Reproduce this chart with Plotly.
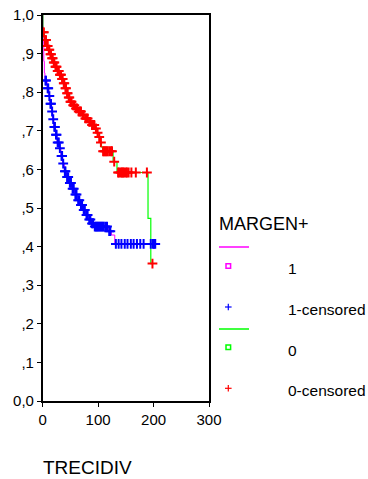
import numpy as np
import plotly.graph_objects as go

# ---- data (Kaplan-Meier style step curves) ----
g1_times = [0, 0.5, 1, 2, 3, 4, 8, 11, 13, 16, 18, 20, 23, 26, 30, 33, 36, 39, 43, 47,
            52, 57, 62, 67, 72, 77, 82, 87, 92, 118, 124, 130, 205]
g1_surv = [1.0, 0.97, 0.93, 0.88, 0.85, 0.83, 0.81, 0.79, 0.77, 0.75, 0.73, 0.71, 0.69,
           0.67, 0.655, 0.635, 0.615, 0.595, 0.58, 0.565, 0.55, 0.535, 0.52, 0.508, 0.495,
           0.482, 0.47, 0.46, 0.452, 0.44, 0.43, 0.407, 0.407]
g1_cens = [5, 6, 9, 10, 12, 14, 15, 17, 19, 21, 22, 24, 25, 27, 29, 31, 34, 35, 37, 40, 41,
           44, 46, 49, 51, 54, 56, 59, 61, 64, 66, 69, 71, 74, 76, 79, 81, 84, 86, 89, 91, 94,
           96, 98, 100, 102, 104, 106, 108, 110, 113, 116, 120, 122, 132, 137, 142, 148, 153,
           159, 164, 170, 176, 182, 195, 199, 201, 203]

g0_times = [0, 0.3, 3, 7, 10, 13, 16, 19, 22, 26, 30, 34, 37, 40, 43, 46, 49, 53, 58, 64,
            70, 76, 82, 88, 94, 97, 100, 103, 106, 108, 127, 134, 190, 195, 198]
g0_surv = [1.0, 0.955, 0.935, 0.92, 0.91, 0.898, 0.888, 0.877, 0.866, 0.855, 0.845, 0.834,
           0.823, 0.81, 0.797, 0.786, 0.775, 0.766, 0.758, 0.75, 0.741, 0.732, 0.723, 0.715,
           0.706, 0.695, 0.684, 0.67, 0.658, 0.647, 0.62, 0.592, 0.473, 0.356, 0.356]
g0_cens = [1, 2, 4, 5, 6, 8, 9, 11, 12, 14, 15, 17, 18, 20, 21, 23, 24, 25, 27, 28, 29, 31,
           32, 33, 35, 36, 38, 39, 41, 42, 44, 45, 47, 48, 50, 51, 52, 55, 57, 60, 62, 65, 67,
           69, 72, 74, 77, 79, 81, 84, 86, 89, 91, 93, 96, 99, 102, 105, 109, 111, 113, 115,
           117, 120, 123, 125, 129, 136, 138, 141, 143, 145, 147, 150, 152, 155, 160, 168,
           188, 198]

x_ticks = [0, 100, 200, 300]
y_ticks = [0, 0.1, 0.2, 0.3, 0.4, 0.5, 0.6, 0.7, 0.8, 0.9, 1.0]
y_labels = ["0,0", ",1", ",2", ",3", ",4", ",5", ",6", ",7", ",8", ",9", "1,0"]

legend_title = "MARGEN+"
legend_labels = ["1", "1-censored", "0", "0-censored"]
x_title = "TRECIDIV"


def surv_at(times, surv, t):
    idx = np.searchsorted(np.array(times), np.array(t), side="right") - 1
    return np.array(surv)[idx]


W, H = 368, 479
FONT = "Liberation Sans, Arial, sans-serif"

fig = go.Figure()
fig.add_trace(go.Scatter(x=g1_times, y=g1_surv, mode="lines", line_shape="hv",
                         line=dict(color="#FF00FF", width=1), showlegend=False))
fig.add_trace(go.Scatter(x=g0_times, y=g0_surv, mode="lines", line_shape="hv",
                         line=dict(color="#00FF00", width=1.2), showlegend=False))
fig.add_trace(go.Scatter(x=g1_cens, y=surv_at(g1_times, g1_surv, g1_cens), mode="markers",
                         marker=dict(symbol="cross-thin", size=7,
                                     line=dict(color="#0000FF", width=2)),
                         showlegend=False))
fig.add_trace(go.Scatter(x=g0_cens, y=surv_at(g0_times, g0_surv, g0_cens), mode="markers",
                         marker=dict(symbol="cross-thin", size=7,
                                     line=dict(color="#FF0000", width=2)),
                         showlegend=False))

# plot area in pixels
L, R, T, B = 42.7, 209.0, 15.0, 401.0


def px(x):
    return x / W


def py(y):
    return 1 - y / H


shapes = []
annotations = []

# legend (drawn manually in the style of the reference)
lx0, lx1, mx, tx = 219, 249, 228.3, 287
items = [
    ("line", "#FF00FF", 247),
    ("square", "#FF00FF", 266),
    ("cross", "#0000FF", 307),
    ("line", "#00FF00", 329),
    ("square", "#00FF00", 347.3),
    ("cross", "#FF0000", 388.3),
]
for kind, col, yy in items:
    if kind == "line":
        shapes.append(dict(type="line", xref="paper", yref="paper",
                           x0=px(lx0), x1=px(lx1), y0=py(yy), y1=py(yy),
                           line=dict(color=col, width=1.5)))
    elif kind == "square":
        s = 2.3
        shapes.append(dict(type="rect", xref="paper", yref="paper",
                           x0=px(mx - s), x1=px(mx + s), y0=py(yy - s), y1=py(yy + s),
                           line=dict(color=col, width=1.5)))
    else:
        s = 3.3
        shapes.append(dict(type="line", xref="paper", yref="paper",
                           x0=px(mx - s), x1=px(mx + s), y0=py(yy), y1=py(yy),
                           line=dict(color=col, width=1.2)))
        shapes.append(dict(type="line", xref="paper", yref="paper",
                           x0=px(mx), x1=px(mx), y0=py(yy - s), y1=py(yy + s),
                           line=dict(color=col, width=1.2)))

annotations.append(dict(text=legend_title, xref="paper", yref="paper", x=px(216.5), y=py(224),
                        xanchor="left", yanchor="middle", showarrow=False,
                        font=dict(family=FONT, size=18, color="black")))
for lab, yy in zip(legend_labels, [268.3, 309.3, 350, 390]):
    annotations.append(dict(text=lab, xref="paper", yref="paper", x=px(tx - 1.5), y=py(yy),
                            xanchor="left", yanchor="middle", showarrow=False,
                            font=dict(family=FONT, size=15.5, color="black")))
annotations.append(dict(text=x_title, xref="paper", yref="paper", x=px(40.5), y=py(467),
                        xanchor="left", yanchor="middle", showarrow=False,
                        font=dict(family=FONT, size=19, color="black")))

fig.update_layout(
    width=W, height=H,
    margin=dict(l=0, r=0, t=0, b=0),
    paper_bgcolor="white", plot_bgcolor="white",
    font=dict(family=FONT, size=15, color="black"),
    shapes=shapes, annotations=annotations,
    xaxis=dict(domain=[px(L), px(R)], range=[0, 300], tickvals=x_ticks,
               ticks="outside", ticklen=4, tickcolor="black", tickwidth=1,
               showline=True, mirror=True, linecolor="black", linewidth=1.5,
               showgrid=False, zeroline=False, automargin=False,
               tickfont=dict(family=FONT, size=15)),
    yaxis=dict(domain=[py(B), py(T)], range=[0, 1], tickvals=y_ticks, ticktext=y_labels,
               ticks="outside", ticklen=4, tickcolor="black", tickwidth=1,
               showline=True, mirror=True, linecolor="black", linewidth=1.5,
               showgrid=False, zeroline=False, automargin=False,
               tickfont=dict(family=FONT, size=15)),
)

fig.write_html("out.html")
